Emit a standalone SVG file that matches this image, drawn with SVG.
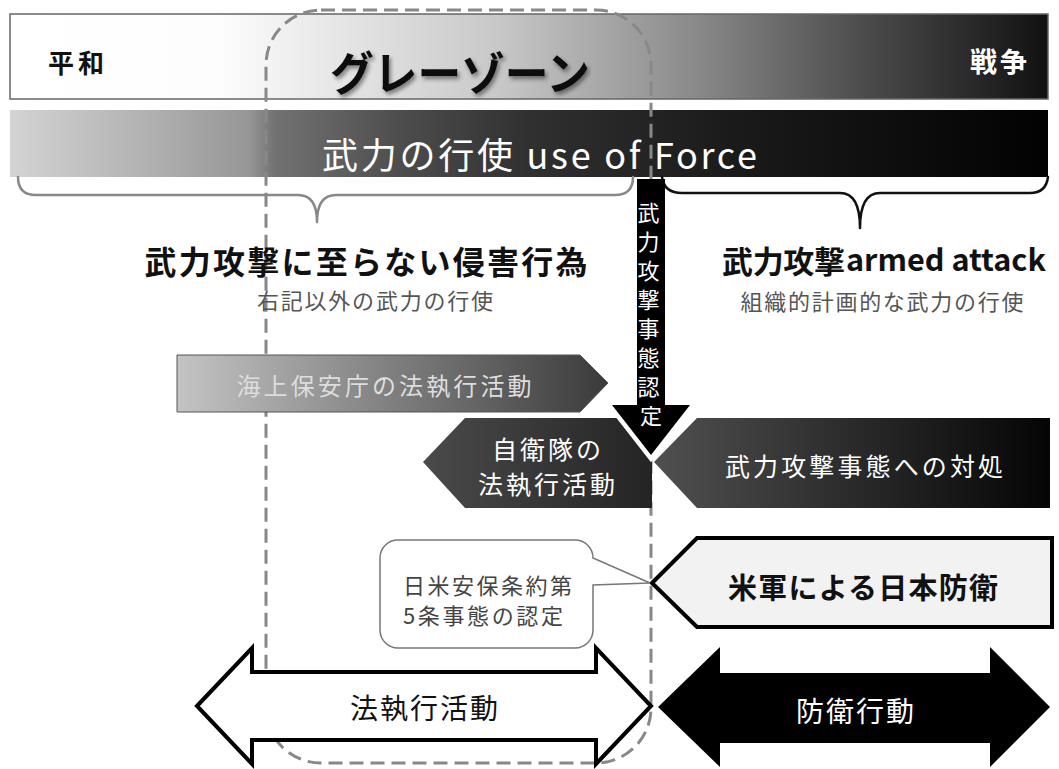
<svg xmlns="http://www.w3.org/2000/svg" width="1059" height="769" viewBox="0 0 1059 769">
<defs>
<linearGradient id="gTop" x1="0" y1="0" x2="1" y2="0">
<stop offset="0" stop-color="#ffffff"/>
<stop offset="0.2" stop-color="#fdfdfd"/>
<stop offset="0.47" stop-color="#c8c8c8"/>
<stop offset="0.66" stop-color="#8a8a8a"/>
<stop offset="0.81" stop-color="#505050"/>
<stop offset="1" stop-color="#111111"/>
</linearGradient>
<linearGradient id="gForce" x1="0" y1="0" x2="1" y2="0">
<stop offset="0" stop-color="#d4d4d4"/>
<stop offset="0.23" stop-color="#979797"/>
<stop offset="0.255" stop-color="#727272"/>
<stop offset="0.38" stop-color="#4c4c4c"/>
<stop offset="0.5" stop-color="#303030"/>
<stop offset="0.7" stop-color="#1a1a1a"/>
<stop offset="1" stop-color="#020202"/>
</linearGradient>
<linearGradient id="gCoast" x1="0" y1="0" x2="1" y2="0">
<stop offset="0" stop-color="#c4c4c4"/>
<stop offset="1" stop-color="#3a3a3a"/>
</linearGradient>
<linearGradient id="gSdf" x1="0" y1="0" x2="1" y2="0">
<stop offset="0" stop-color="#4a4a4a"/>
<stop offset="1" stop-color="#242424"/>
</linearGradient>
<linearGradient id="gAtk" x1="0" y1="0" x2="1" y2="0">
<stop offset="0" stop-color="#505050"/>
<stop offset="1" stop-color="#050505"/>
</linearGradient>
<filter id="shadow" x="-10%" y="-20%" width="130%" height="160%">
<feDropShadow dx="2" dy="3" stdDeviation="2" flood-color="#000" flood-opacity="0.45"/>
</filter>
</defs>
<style>
text { font-family: "Noto Sans CJK JP", "Noto Sans", sans-serif; dominant-baseline: central; }
.b { font-weight: bold; }
.mid { text-anchor: middle; }
.w { fill: #ffffff; }
.k { fill: #111111; }
.sub { fill: #555555; font-size: 22px; }
.zone { fill: none; stroke: #888888; stroke-width: 3; stroke-dasharray: 14 7; }
.brace { fill: none; stroke-width: 2.5; stroke-linecap: round; stroke-linejoin: round; }
</style>

<g id="bar-spectrum">
<rect x="10" y="14" width="1038" height="85" fill="url(#gTop)" stroke="#666" stroke-width="1.5"/>
<text x="48" y="61" class="b k" font-size="26" letter-spacing="4">平和</text>
<text x="330" y="70" class="b k" font-size="46" textLength="260" lengthAdjust="spacingAndGlyphs" filter="url(#shadow)">グレーゾーン</text>
<text x="970" y="60" class="b w" font-size="27" letter-spacing="3">戦争</text>
</g>

<g id="bar-force">
<rect x="10" y="110" width="1038" height="67" fill="url(#gForce)"/>
<text x="322" y="153" class="w" font-size="36" textLength="435" lengthAdjust="spacing">武力の行使 use of Force</text>
</g>

<g id="gray-zone">
<rect class="zone" x="266" y="10" width="385" height="753" rx="55" ry="55"/>
</g>

<g id="connectors">
<path class="brace" stroke="#888888" d="M 18 177 Q 18 195 36 195 H 298 Q 317 195 317 222 Q 317 195 336 195 H 615 Q 633 195 633 177"/>
<path class="brace" stroke="#111111" d="M 662 177 Q 664 193 682 193 H 840 Q 860 193 860 228 Q 860 193 880 193 H 1030 Q 1046 193 1048 177"/>
</g>

<g id="label-infringement">
<text x="366" y="260" class="b k mid" font-size="32" textLength="443" lengthAdjust="spacing">武力攻撃に至らない侵害行為</text>
<text x="375" y="299" class="sub mid" textLength="236" lengthAdjust="spacing">右記以外の武力の行使</text>
</g>

<g id="label-armed-attack">
<text x="722" y="259" class="b k" font-size="31" textLength="123" lengthAdjust="spacing">武力攻撃</text>
<text x="846" y="258" class="b k" font-size="30" textLength="200" lengthAdjust="spacingAndGlyphs">armed attack</text>
<text x="882" y="300" class="sub mid" textLength="283" lengthAdjust="spacing">組織的計画的な武力の行使</text>
</g>

<g id="node-coast-guard">
<polygon points="177,355 580,355 608,383 580,412 177,412" fill="url(#gCoast)" stroke="#555" stroke-width="1"/>
<text x="384" y="384" class="mid" fill="#dddddd" font-size="24" textLength="295" lengthAdjust="spacing">海上保安庁の法執行活動</text>
</g>

<g id="node-sdf">
<polygon points="423,462 465,418 652,418 652,508 465,508" fill="url(#gSdf)"/>
<text x="548" y="448" class="w mid" font-size="25" letter-spacing="3">自衛隊の</text>
<text x="548" y="483" class="w mid" font-size="25" letter-spacing="3">法執行活動</text>
</g>

<g id="node-response">
<polygon points="654,462 697,418 1050,418 1050,508 697,508" fill="url(#gAtk)"/>
<text x="864" y="465" class="w mid" font-size="25" textLength="278" lengthAdjust="spacing">武力攻撃事態への対処</text>
</g>

<g id="node-recognition">
<polygon points="612,405 690,405 651,455" fill="#ffffff" stroke="#ffffff" stroke-width="9" stroke-linejoin="miter"/>
<rect x="637" y="179" width="28" height="228" fill="#000"/>
<polygon points="612,405 690,405 651,455" fill="#000"/>
<text class="w mid" font-size="22">
<tspan x="651" y="211">武</tspan>
<tspan x="651" y="240">力</tspan>
<tspan x="651" y="269">攻</tspan>
<tspan x="651" y="298">撃</tspan>
<tspan x="651" y="327">事</tspan>
<tspan x="651" y="356">態</tspan>
<tspan x="651" y="385">認</tspan>
<tspan x="651" y="414">定</tspan>
</text>
</g>

<g id="node-us-defense">
<polygon points="652,583 697,538 1052,538 1052,627 697,627" fill="#f2f2f2" stroke="#000" stroke-width="4" stroke-linejoin="miter"/>
<text x="863" y="586" class="b k mid" font-size="29" textLength="270" lengthAdjust="spacing">米軍による日本防衛</text>
</g>

<g id="callout-article5">
<path d="M 398 540 H 575 A 18 18 0 0 1 593 558 L 650 583 L 593 585 V 630 A 18 18 0 0 1 575 648 H 398 A 18 18 0 0 1 380 630 V 558 A 18 18 0 0 1 398 540 Z" fill="#ffffff" stroke="#777" stroke-width="1.5"/>
<text x="403" y="584" fill="#444" font-size="22" textLength="169" lengthAdjust="spacing">日米安保条約第</text>
<text x="403" y="614" fill="#444" font-size="22" textLength="160" lengthAdjust="spacing">5条事態の認定</text>
</g>

<g id="node-law-enforcement">
<polygon points="197,706 252,648 252,672 596,672 596,648 651,706 596,764 596,740 252,740 252,764" fill="#ffffff" stroke="#000" stroke-width="4" stroke-linejoin="miter"/>
<text x="425" y="707" class="k mid" font-size="28" letter-spacing="2">法執行活動</text>
</g>

<g id="node-defense">
<polygon points="658,707 720,647 720,673 990,673 990,647 1050,707 990,767 990,743 720,743 720,767" fill="#000"/>
<text x="856" y="710" class="w mid" font-size="28" letter-spacing="2">防衛行動</text>
</g>
</svg>
